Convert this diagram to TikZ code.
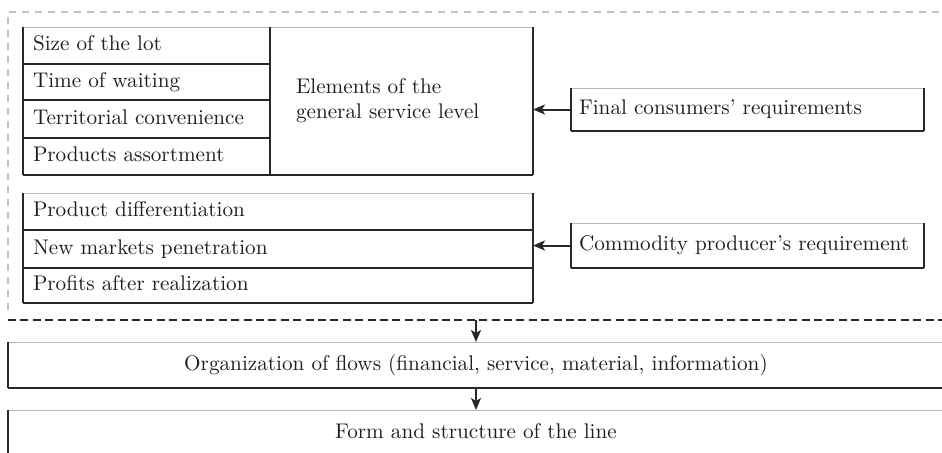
\documentclass[tikz,border=0pt]{standalone}
\usetikzlibrary{arrows.meta}
\definecolor{ink}{RGB}{30,30,30}
\definecolor{edgec}{RGB}{40,40,40}
\definecolor{topc}{RGB}{185,185,185}
\definecolor{outerc}{RGB}{195,195,195}
\begin{document}
\begin{tikzpicture}[x=0.5pt,y=-0.5pt,
  txt/.style={font=\fontsize{10.6}{12.5}\selectfont, text=ink},
  cell/.style={txt, anchor=north west, inner ysep=0pt, outer sep=0pt,
    text height=7.6pt, text depth=2.2pt, align=left},
  topline/.style={draw=topc, line width=0.5pt},
  vedge/.style={draw=edgec, line width=1.1pt},
  hedge/.style={draw=edgec, line width=0.75pt},
  arr/.style={draw=edgec, line width=1pt, -{Stealth[length=6pt,width=5pt,inset=1.5pt]}},
]
\useasboundingbox (0,0) rectangle (942,452);

% outer light dashed frame (top and left)
\draw[draw=outerc, line width=0.55pt, dash pattern=on 3.5pt off 3pt]
  (8,310) -- (8,12) -- (942,12);

% ---- first group
\node[cell, inner xsep=5pt, text width=113.5pt, minimum height=18.5pt] (r1) at (23,27) {Size of the lot};
\node[cell, inner xsep=5pt, text width=113.5pt, minimum height=18pt] (r2) at (23,64) {Time of waiting};
\node[cell, inner xsep=5pt, text width=113.5pt, minimum height=19pt] (r3) at (23,100) {Territorial convenience};
\node[cell, inner xsep=5pt, text width=113.5pt, minimum height=18.5pt] (r4) at (23,138) {Products assortment};
\node[txt, anchor=north west, inner xsep=13pt, inner ysep=0pt, outer sep=0pt, text width=105.5pt,
  align=left, minimum height=74pt] (el) at (270,27) {Elements of the\\general service level};

% ---- second group
\node[cell, inner xsep=5pt, text width=245pt, minimum height=18.5pt] (p1) at (23,193) {Product differentiation};
\node[cell, inner xsep=5pt, text width=245pt, minimum height=19pt] (p2) at (23,230) {New markets penetration};
\node[cell, inner xsep=5pt, text width=245pt, minimum height=17.5pt] (p3) at (23,268) {Profits after realization};

% ---- requirement boxes
\node[cell, inner xsep=4pt, text width=168.5pt, minimum height=21.5pt] (fc) at (571,88) {Final consumers' requirements};
\node[cell, inner xsep=4pt, text width=168.5pt, minimum height=22.5pt] (cp) at (571,223) {Commodity producer's requirement};

% ---- bottom boxes
\node[txt, anchor=north west, inner sep=0pt, outer sep=0pt, minimum width=468pt, minimum height=23pt,
  text height=7.6pt, text depth=2.2pt] (org) at (8,342) {Organization of flows (financial, service, material, information)};
\node[txt, anchor=north west, inner sep=0pt, outer sep=0pt, minimum width=468pt, minimum height=23pt,
  text height=7.6pt, text depth=2.2pt] (form) at (8,410) {Form and structure of the line};

% thin light top edges
\foreach \n in {r1,el,p1,fc,cp,org,form}
  \draw[topline] (\n.north west) -- (\n.north east);

% dark edges
\foreach \n in {r1,r2,r3,r4}
  \draw[hedge] (\n.south west) -- (\n.south east);
\draw[vedge] (r1.north west) -- (r4.south west);
\draw[vedge] (r1.north east) -- (r4.south east);
\draw[hedge] (el.south west) -- (el.south east);
\draw[vedge] (el.north east) -- (el.south east);

\foreach \n in {p1,p2,p3}
  \draw[hedge] (\n.south west) -- (\n.south east);
\draw[vedge] (p1.north west) -- (p3.south west);
\draw[vedge] (p1.north east) -- (p3.south east);

\foreach \n in {fc,cp}{
  \draw[hedge] (\n.south west) -- (\n.south east);
  \draw[vedge] (\n.north west) -- (\n.south west);
  \draw[vedge] (\n.north east) -- (\n.south east);
}

\draw[hedge] (org.south west) -- (org.south east);
\draw[vedge] (org.north west) -- (org.south west);
\draw[vedge] (form.north west) -- (form.south west);

% black dashed separator
\coordinate (dl) at (8,320);
\coordinate (dr) at (942,320);
\draw[draw=edgec, line width=1pt, dash pattern=on 4pt off 2.2pt] (dl) -- (dr);
\coordinate (dm) at (org.north |- dl);

% arrows
\draw[arr] (fc.west) -- (fc.west -| el.east);
\draw[arr] (cp.west) -- (cp.west -| p2.east);
\draw[arr] (dm) -- (org.north);
\draw[arr] (org.south) -- (form.north);
\end{tikzpicture}
\end{document}
